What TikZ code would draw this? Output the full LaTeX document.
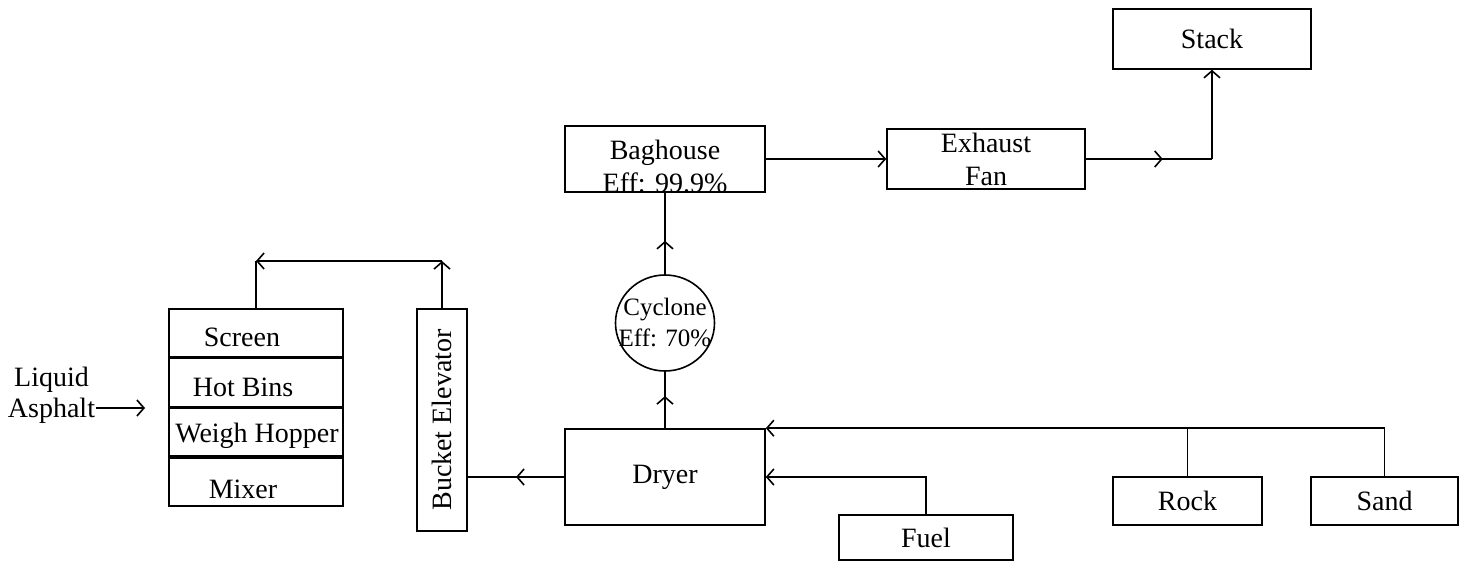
\documentclass[tikz,border=0pt]{standalone}
\usepackage{fontspec}
\setmainfont{Liberation Serif}
\usepackage{tikz}
\usetikzlibrary{shapes.geometric}
\usetikzlibrary{arrows.meta, decorations.markings, positioning}

% move a label inside its box without changing the box
\newcommand{\nudge}[3]{\makebox[0pt]{\hspace*{#1}\raisebox{-#2}[\height][\depth]{#3}\hspace*{-#1}}}

\begin{document}
\begin{tikzpicture}[
		x=0.5pt, y=-0.5pt, % one unit per pixel of the reference
		line width=0.8pt,
		every node/.style={
				font=\fontsize{14pt}{16.5pt}\selectfont
			},
		box/.style={
				draw,
				inner sep=0pt,
				align=center
			},
		cell/.style={
				box,
				minimum width=87pt,
				minimum height=24pt,
				text height=9.5pt, % Height above the baseline
				text depth=3pt     % Depth below the baseline
			},
		cyclone/.style={
				draw,
				ellipse,
				inner sep=0pt,
				minimum width=49.5pt,
				minimum height=48pt,
				align=center,
				font=\fontsize{12.5pt}{15.5pt}\selectfont
			},
		barb/.tip={Straight Barb[length=3.5pt, width=8pt]},
		flow/.style={-barb},
		midflow/.style={
				postaction={decorate},
				decoration={markings, mark=at position #1 with {\arrow{barb}}}
			}
	]
	\useasboundingbox (0,0) rectangle (1467,561);

	\node[box, minimum width=100pt, minimum height=30pt] (bag) at (665,159)
		{\nudge{0pt}{5pt}{\begin{tabular}{@{}c@{}}Baghouse\\Eff: 99.9\%\end{tabular}}};
	\node[box, minimum width=99pt, minimum height=30pt] (fan) at (986,159) {Exhaust\\Fan};
	\node[box, minimum width=99pt, minimum height=30pt] (stack) at (1212,39) {Stack};
	\node[cyclone] (cyc) at (665,323) {\makebox[0pt]{Cyclone}\\\makebox[0pt]{Eff: 70\%}};
	\node[box, minimum width=100pt, minimum height=48pt] (dryer) at (665,477) {Dryer};
	\node[box, minimum width=87pt, minimum height=22.5pt] (fuel) at (926,537.5) {Fuel};
	\node[box, minimum width=74.5pt, minimum height=24pt] (rock) at (1187.5,501) {Rock};
	\node[box, minimum width=73.5pt, minimum height=24pt] (sand) at (1384.5,501) {Sand};

	% mixing tower
	\node[cell] (screen) at (256,333) {\nudge{-7pt}{3.5pt}{Screen}};
	\node[cell, below=0pt of screen] (bins) {\nudge{-6.5pt}{3.5pt}{Hot Bins}};
	\node[cell, below=0pt of bins] (hopper) {\nudge{0.5pt}{2pt}{Weigh Hopper}};
	\node[cell, below=0pt of hopper] (mixer) {\nudge{-6.5pt}{5pt}{Mixer}};

	\node[box, minimum width=25pt, minimum height=111pt] (elev) at (442,420) {\rotatebox{90}{Bucket Elevator}};

	\node[align=center, inner sep=0pt, font=\fontsize{14pt}{15.5pt}\selectfont] (liquid) at (51.5,395) {Liquid\\Asphalt};

	\coordinate (asphend) at (145,408);
	\draw[flow] (asphend -| liquid.east) -- (asphend);

	\coordinate (elevtop) at (elev.north |- 0,261);
	\coordinate (mixtop) at (screen.north |- elevtop);
	\draw[flow] (elev.north) -- (elevtop);
	\draw[flow] (elevtop) -- (mixtop);
	\draw (mixtop) -- (screen.north);

	\draw[midflow=0.5] (dryer.west) -- (dryer.west -| elev.east);
	\draw[midflow=0.57] (dryer.north) -- (cyc.south);
	\draw[midflow=0.41] (cyc.north) -- (bag.south);
	\draw[flow] (bag.east) -- (fan.west);

	\coordinate (stackturn) at (stack.south |- fan.east);
	\draw[midflow=0.61] (fan.east) -- (stackturn);
	\draw[flow] (stackturn) -- (stack.south);

	\draw[flow] (sand.north) |- (dryer.north east);
	\draw (rock.north) -- (rock.north |- dryer.north east);
	\draw[flow] (fuel.north) |- (dryer.east);
\end{tikzpicture}
\end{document}
